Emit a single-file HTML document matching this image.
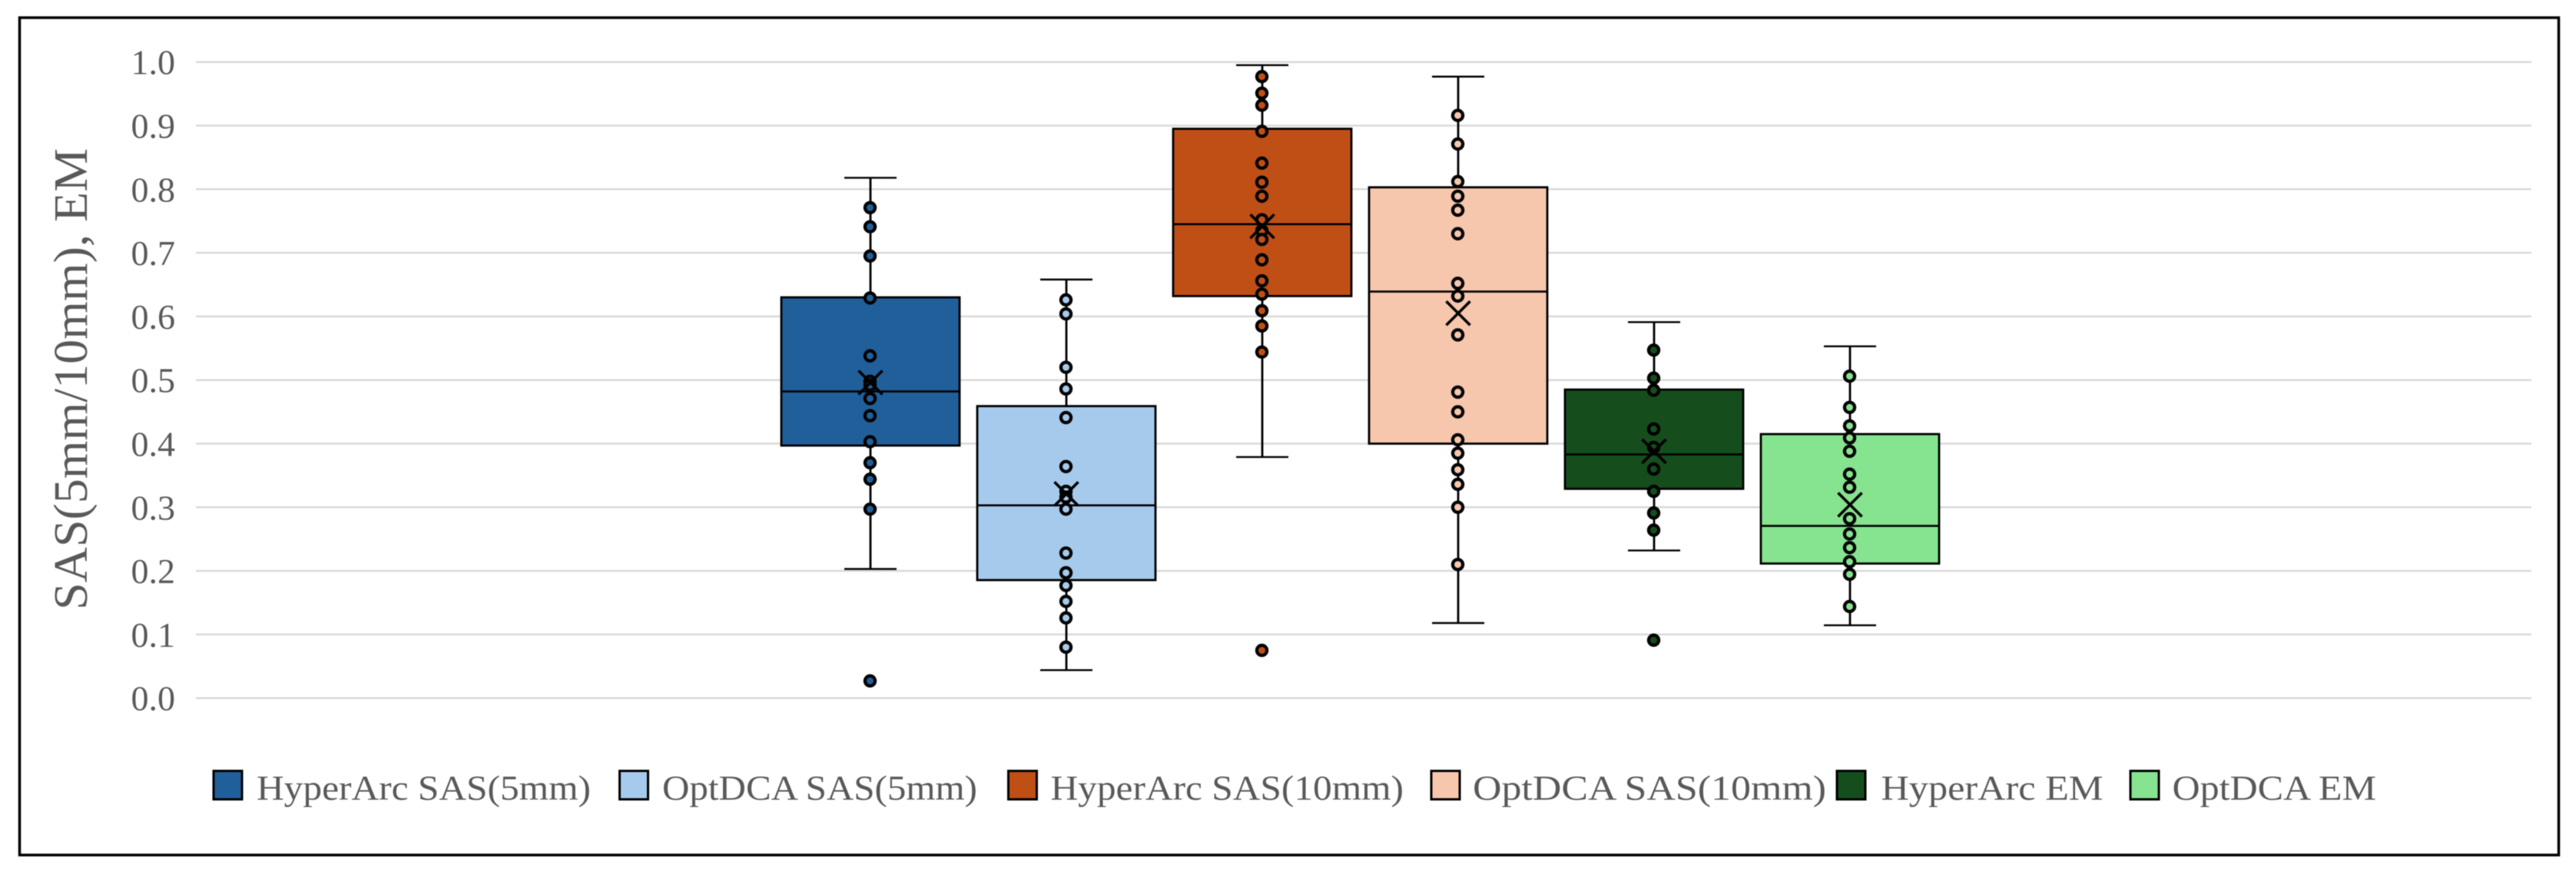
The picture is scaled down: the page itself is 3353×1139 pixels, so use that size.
<!DOCTYPE html>
<html lang="en">
<head>
<meta charset="utf-8">
<title>SAS and EM box plot</title>
<style>
html,body{margin:0;padding:0;background:#fff;}
body{width:3353px;height:1139px;overflow:hidden;}
svg{display:block;filter:blur(0.5px);}
text{font-family:"Liberation Serif",serif;fill:#595959;}
</style>
</head>
<body>
<svg id="chart" xmlns="http://www.w3.org/2000/svg" width="3353" height="1139" viewBox="0 0 3353 1139">
  <rect x="25.5" y="23" width="3305" height="1090" fill="#fff" stroke="#000" stroke-width="3.5"/>
  <g id="grid"></g>
  <g id="ticks"></g>
  <g id="boxes"></g>
  <text transform="translate(113,794) rotate(-90)" font-size="62" textLength="601" lengthAdjust="spacingAndGlyphs">SAS(5mm/10mm), EM</text>
  <g font-size="46">
    <g>
      <rect x="278" y="1003.5" width="37" height="37" fill="#215F9A" stroke="#000" stroke-width="3"/>
      <text x="334" y="1041" textLength="435" lengthAdjust="spacingAndGlyphs">HyperArc SAS(5mm)</text>
    </g>
    <g>
      <rect x="806.5" y="1003.5" width="37" height="37" fill="#A6CAEC" stroke="#000" stroke-width="3"/>
      <text x="862" y="1041" textLength="410" lengthAdjust="spacingAndGlyphs">OptDCA SAS(5mm)</text>
    </g>
    <g>
      <rect x="1312.5" y="1003.5" width="37" height="37" fill="#C04F15" stroke="#000" stroke-width="3"/>
      <text x="1367.5" y="1041" textLength="459.5" lengthAdjust="spacingAndGlyphs">HyperArc SAS(10mm)</text>
    </g>
    <g>
      <rect x="1863" y="1003.5" width="37" height="37" fill="#F6C6AD" stroke="#000" stroke-width="3"/>
      <text x="1917" y="1041" textLength="460" lengthAdjust="spacingAndGlyphs">OptDCA SAS(10mm)</text>
    </g>
    <g>
      <rect x="2391" y="1003.5" width="37" height="37" fill="#154E1C" stroke="#000" stroke-width="3"/>
      <text x="2448.5" y="1041" textLength="289" lengthAdjust="spacingAndGlyphs">HyperArc EM</text>
    </g>
    <g>
      <rect x="2773" y="1003.5" width="37" height="37" fill="#86E38F" stroke="#000" stroke-width="3"/>
      <text x="2827.5" y="1041" textLength="265.5" lengthAdjust="spacingAndGlyphs">OptDCA EM</text>
    </g>
  </g>
</svg>
<script>
const tickLabels = ["0.0","0.1","0.2","0.3","0.4","0.5","0.6","0.7","0.8","0.9","1.0"];
const tickValues = [0,0.1,0.2,0.3,0.4,0.5,0.6,0.7,0.8,0.9,1.0];
const categories = ["hyperarc-sas-5mm","optdca-sas-5mm","hyperarc-sas-10mm","optdca-sas-10mm","hyperarc-em","optdca-em"];
const seriesColors = ["#215F9A","#A6CAEC","#C04F15","#F6C6AD","#154E1C","#86E38F"];
const whiskerLow = [0.203,0.044,0.379,0.118,0.232,0.1145];
const quartile1 = [0.397,0.1855,0.632,0.400,0.329,0.2115];
const medians = [0.482,0.303,0.745,0.639,0.383,0.2707];
const quartile3 = [0.630,0.459,0.895,0.803,0.485,0.415];
const whiskerHigh = [0.818,0.658,0.995,0.977,0.591,0.553];
const means = [0.496,0.321,0.7416,0.605,0.388,0.304];
const pointsHyperArc5 = [0.771,0.741,0.695,0.629,0.538,0.498,0.492,0.471,0.444,0.403,0.370,0.344,0.297,0.027];
const pointsOptDCA5 = [0.626,0.604,0.520,0.486,0.441,0.364,0.325,0.316,0.297,0.228,0.197,0.177,0.152,0.126,0.080];
const pointsHyperArc10 = [0.977,0.951,0.932,0.891,0.841,0.811,0.789,0.752,0.735,0.721,0.689,0.656,0.635,0.609,0.585,0.544,0.075];
const pointsOptDCA10 = [0.916,0.871,0.812,0.789,0.767,0.730,0.652,0.632,0.571,0.481,0.450,0.406,0.385,0.359,0.336,0.300,0.210];
const pointsHyperArcEM = [0.547,0.503,0.484,0.423,0.394,0.360,0.325,0.291,0.264,0.091];
const pointsOptDCAEM = [0.506,0.457,0.428,0.409,0.388,0.352,0.3315,0.282,0.258,0.2365,0.2143,0.1946,0.144];
const allPoints = [pointsHyperArc5,pointsOptDCA5,pointsHyperArc10,pointsOptDCA10,pointsHyperArcEM,pointsOptDCAEM];

const SVGNS = "http://www.w3.org/2000/svg";
function yScale(v){ return 908.7 - 828 * v; }
function xScale(i){ return 1133 + 255 * i; }
const boxWidth = 232;
const capHalf = 34;
const plotLeft = 255;
const plotRight = 3295;

function make(tag, attrs, parent){
  const el = document.createElementNS(SVGNS, tag);
  for (const k in attrs) el.setAttribute(k, attrs[k]);
  parent.appendChild(el);
  return el;
}

const gridG = document.getElementById("grid");
const ticksG = document.getElementById("ticks");
tickValues.forEach(function(v, i){
  const line = make("line", {x1:plotLeft, x2:plotRight, y1:yScale(v), y2:yScale(v), stroke:"#D9D9D9", "stroke-width":2.5}, gridG);
  
  
  const label = make("text", {x:228, y:yScale(v) + 16, "text-anchor":"end", "font-size":46}, ticksG);
  label.textContent = tickLabels[i];
  
  
});

const boxesG = document.getElementById("boxes");
categories.forEach(function(cat, i){
  const cx = xScale(i);
  const g = make("g", {}, boxesG);
  
  

  const whisker = make("line", {x1:cx, x2:cx, y1:yScale(whiskerHigh[i]), y2:yScale(whiskerLow[i]), stroke:"#000", "stroke-width":2.8}, g);
  
  

  const capTop = make("line", {x1:cx - capHalf, x2:cx + capHalf, y1:yScale(whiskerHigh[i]), y2:yScale(whiskerHigh[i]), stroke:"#000", "stroke-width":2.4}, g);
  
  

  const capBottom = make("line", {x1:cx - capHalf, x2:cx + capHalf, y1:yScale(whiskerLow[i]), y2:yScale(whiskerLow[i]), stroke:"#000", "stroke-width":2.4}, g);
  
  

  const rect = make("rect", {x:cx - boxWidth / 2, y:yScale(quartile3[i]), width:boxWidth, height:yScale(quartile1[i]) - yScale(quartile3[i]), fill:seriesColors[i], stroke:"#000", "stroke-width":2.8}, g);
  
  

  const med = make("line", {x1:cx - boxWidth / 2, x2:cx + boxWidth / 2, y1:yScale(medians[i]), y2:yScale(medians[i]), stroke:"#000", "stroke-width":2.6}, g);
  
  

  allPoints[i].forEach(function(p){
    const dot = make("circle", {cx:cx - 0.5, cy:yScale(p), r:6.6, fill:seriesColors[i], stroke:"#000", "stroke-width":4.2}, g);
    
    
  });

  const my = yScale(means[i]);
  const size = 15.5;
  const mark = make("path", {d:"M" + (cx - size) + " " + (my - size) + "L" + (cx + size) + " " + (my + size) + "M" + (cx - size) + " " + (my + size) + "L" + (cx + size) + " " + (my - size), stroke:"#000", "stroke-width":3.6, fill:"none"}, g);
  
  
});
</script>
</body>
</html>
